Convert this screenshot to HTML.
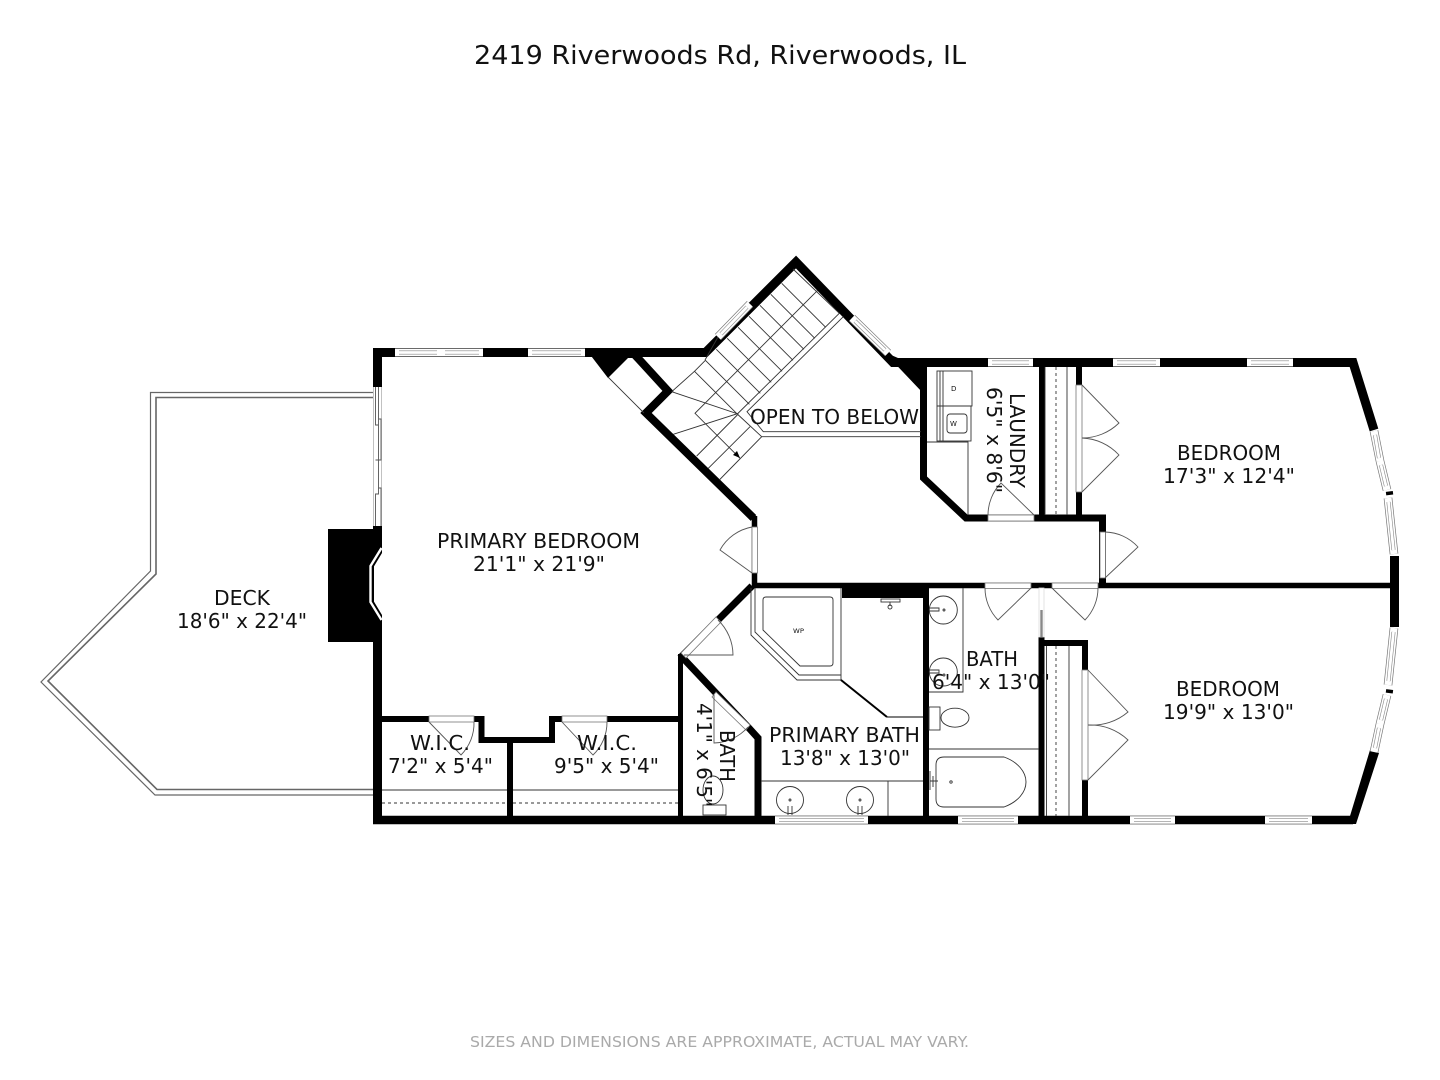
<!DOCTYPE html>
<html><head><meta charset="utf-8"><title>Floor plan</title>
<style>
html,body{margin:0;padding:0;background:#fff;width:1440px;height:1080px;overflow:hidden}
svg{display:block}
text{font-family:"DejaVu Sans","Liberation Sans",sans-serif;fill:#111;font-size:20px}
.t{stroke:#333;stroke-width:.9;fill:none}
.d{stroke:#555;stroke-width:.9;fill:none}
.f{stroke:#333;stroke-width:1;fill:#fff}
</style></head><body>
<svg width="1440" height="1080" viewBox="0 0 1440 1080" xmlns="http://www.w3.org/2000/svg">
<defs>
<path id="wo" d="M395 352.5H441M441 352.5H483M528 352.5H585M750 304L718 337M852 318L888 353M988 362.5H1033M1113 362.5H1160M1247 362.5H1293M775 820H868M958 820H1018M1130 820H1175M1265 820H1312M1374 431L1380 461M1380 461L1387 490M1388 498L1394 554M1394 628L1388 685M1387 695L1380 724M1380 724L1374 752"/>
<path id="wi" d="M399 352.5H437M445 352.5H479M532 352.5H581M747 307L721 334M855 321L885 350M992 362.5H1029M1117 362.5H1156M1251 362.5H1289M779 820H864M962 820H1014M1134 820H1171M1269 820H1308M1375 435L1379 458M1381 465L1386 486M1388.5 502L1393.5 550M1393.5 632L1388.5 681M1386 699L1381 720M1379 728L1375 748"/>
</defs>
<rect width="1440" height="1080" fill="#fff"/>

<!-- deck -->
<g fill="none" stroke="#666" stroke-width="1.2">
<path d="M373 392.5H150.5V571L41 682L155 795H373"/>
<path d="M373 397.5H156V574L48 681L157 789.5H373" stroke-width="1.6"/>
</g>

<!-- walls -->
<g fill="none" stroke="#000" stroke-linejoin="miter" stroke-linecap="butt">
<path stroke-width="9" d="M377.5 348V387M377.5 660V824"/>
<path stroke-width="9" d="M373 352.5H705.5L796 262L893 362.5H1353L1374 430"/>
<path stroke-width="8" d="M635 355L668 391L646 413L753.5 518"/>
<path stroke-width="5.5" d="M754.5 516V586"/>
<path stroke-width="7" d="M923.5 362V478L966 518H1102.5V585"/>
<path stroke-width="6" d="M1042 362V518M1079 362V518"/>
<path stroke-width="5.5" d="M752 585.5H1395"/>
<path stroke-width="9" d="M1394.5 556V627"/>
<path stroke-width="6" d="M926 585V820"/>
<path stroke-width="7" d="M752 586L680 658M681 656L748 727L758 738V820"/>
<path stroke-width="5" d="M680.5 654V820"/>
<path stroke-width="6" d="M382 719H481.5V740H552V719H680"/>
<path stroke-width="6" d="M510 740V820"/>
<path stroke-width="6" d="M1041.5 820V637M1041.5 643H1085V820"/>
<path stroke-width="8.5" d="M373 820H1353"/>
</g>
<g fill="#000">
<polygon points="585,348 640,348 640,358 628,358 608,378"/>
<polygon points="884,352 898,358 927,358 927,392 922,392"/>
<polygon points="1370,750 1379,753 1356,824 1340,824 1340,816 1350,816"/>
<rect x="842" y="583" width="81" height="15"/>
<rect x="328" y="529" width="46" height="113"/>
<polygon points="373,526 382,526 382,553 373,568 373,600 382,615 382,660 373,660"/>
<rect x="1386" y="491.5" width="7" height="3.5" transform="rotate(-7 1389 493)"/>
<rect x="1386" y="689.5" width="7" height="3.5" transform="rotate(7 1389 691)"/>
</g>
<path d="M381.5 548L370.5 566V602L381.5 620" fill="none" stroke="#fff" stroke-width="2.4"/>

<!-- closet thin -->
<path class="t" d="M608 377L644 413"/>

<!-- sliding door -->
<rect x="373" y="387" width="9" height="139" fill="#fff"/>
<g class="d"><path d="M373.5 387V526M381.5 387V526" stroke="#bbb"/><path d="M375.5 387V425H378.5V387M378.5 419H381V460H378.5V419M375.5 460H378.5V494H375.5V526M378.5 488H381V526"/></g>

<!-- windows -->
<g fill="none">
<use href="#wo" stroke="#777" stroke-width="8.6"/>
<use href="#wo" stroke="#fff" stroke-width="7.2"/>
<use href="#wi" stroke="#888" stroke-width="4"/>
<use href="#wi" stroke="#fff" stroke-width="2.8"/>
</g>

<!-- door jambs -->
<g fill="#fff" stroke="#777" stroke-width=".8">
<rect x="752" y="527" width="5.5" height="46"/>
<rect x="988" y="515" width="46" height="6"/>
<rect x="1100" y="532" width="5.5" height="46"/>
<rect x="1076" y="385" width="6" height="107"/>
<rect x="1082" y="670" width="6" height="110"/>
<rect x="985" y="583" width="46" height="5.5"/>
<rect x="1052" y="583" width="46" height="5.5"/>
<rect x="429" y="716" width="45" height="6"/>
<rect x="562" y="716" width="45" height="6"/>
<polygon points="716,617 721,622 686,658 681,653"/>
<polygon points="716,692 712,697 746,730 750,725"/>
<rect x="1039" y="588" width="5" height="49" stroke="#ddd"/>
</g>
<path d="M1041.5 610V637" stroke="#888" stroke-width="2.4" fill="none"/>
<g class="d">
<path d="M752 573L720 550A46 46 0 0 1 752 527"/>
<path d="M1034 515L1001 483A46 46 0 0 0 988 515"/>
<path d="M1105 578L1138 547A46 46 0 0 0 1105 532"/>
<path d="M1082 385L1119 423A53 53 0 0 1 1082 438"/>
<path d="M1082 492L1119 455A53 53 0 0 0 1082 438"/>
<path d="M1088 670L1128 712A55 55 0 0 1 1088 725"/>
<path d="M1088 780L1128 740A55 55 0 0 0 1088 725"/>
<path d="M1031 588L998 620A46 46 0 0 1 985 588"/>
<path d="M1052 588L1085 620A46 46 0 0 0 1098 588"/>
<path d="M684 655H733A49 49 0 0 0 718 620"/>
<path d="M714 695V743A47 47 0 0 0 748 727"/>
<path d="M429 722L461 755A45 45 0 0 0 474 722"/>
<path d="M562 722L593 755A45 45 0 0 0 607 722"/>
</g>

<!-- stairs -->
<g class="t">
<path d="M781.7 283.3L825.7 327.3M770.8 294.3L814.8 338.3M759.9 305.3L803.9 349.3M749 316.3L793 360.3M738.1 327.3L782.1 371.3M727.2 338.3L771.2 382.3M716.3 349.3L760.3 393.3M705.4 360.3L749.4 404.3M694.5 371.3L738.5 415.3"/>
<path d="M793 269L839.3 313.3M671.7 391.7L694.5 371.3M694.5 371.3L705.4 360.3M705 360L718 337M671.7 391.7L737.3 413.7L673.3 434.3"/>
<path d="M817.3 290.7L695 413.3L740 458.3"/>
<path d="M696.7 456L737.3 415M708.3 468.3L750 426.7M719.3 480L761.7 436.7M737.3 414L761.7 436.7"/>
<path d="M839.3 313.3L737.3 414M843.3 316.7L747 411.7L763.3 431.7H921M761.7 436.7H921"/>
</g>
<polygon points="740,458 733,455 737,451" fill="#000"/>

<!-- primary bath fixtures -->
<g class="t">
<path d="M751 588V635L797 680H841V588"/>
<path d="M755 588V632L799 675H841"/>
<path d="M766 597H830Q833 597 833 600V663Q833 666 830 666H800L763 630V600Q763 597 766 597Z"/>
<path d="M761 781H923M888 781V816"/>
<path d="M841 680L887 717" stroke="#000" stroke-width="2"/>
<path d="M887 717H923" stroke-width="1.2"/>
<circle cx="790" cy="800" r="13.5"/><circle cx="860" cy="800" r="13.5"/>
<circle cx="790" cy="800" r="1"/><circle cx="860" cy="800" r="1"/>
<path d="M788 806V815M792 806V815M858 806V815M862 806V815"/>
</g>
<text x="793" y="633" style="font-size:6px" textLength="11" lengthAdjust="spacingAndGlyphs">WP</text>
<g class="t"><rect x="881" y="599" width="19" height="3"/><path d="M890 602V606"/><circle cx="890" cy="607" r="2"/></g>

<!-- bath fixtures -->
<g class="t">
<path d="M963 588V692H929M929 749H1039"/>
<circle cx="943.3" cy="610" r="14"/><circle cx="943.3" cy="672" r="14"/>
<circle cx="944" cy="610" r="1"/><circle cx="944" cy="675" r="1"/>
<path d="M929 608H939V611H929M929 670H939V673H929"/>
<rect x="929" y="707" width="11" height="23"/>
<ellipse cx="955" cy="717.7" rx="14" ry="9.5"/>
<path d="M944 757H1004C1018 762 1026 772 1026 782C1026 792 1018 802 1004 807H944Q936 807 936 799V765Q936 757 944 757Z"/>
<circle cx="951" cy="782" r="1.2"/>
<path d="M930 771V790M930 781H938M933 776V787"/>
</g>

<!-- small bath -->
<g class="t">
<ellipse cx="713" cy="790" rx="10" ry="14"/>
<rect x="703" y="805" width="23" height="10"/>
</g>

<!-- laundry -->
<g class="t">
<rect x="937" y="371" width="35" height="35"/>
<rect x="937" y="406" width="34" height="35"/>
<path d="M943 371V441M940 371V441M927 442H968V515"/>
<rect x="947" y="414" width="20" height="19" rx="3"/>
</g>
<text x="951" y="391" style="font-size:7px">D</text>
<text x="950" y="426" style="font-size:7px">W</text>

<!-- closets -->
<g class="t">
<path d="M1045 367V515M1067 367V515M1046.5 646V816M1069 646V816M382 790H507M513 790H678"/>
<path d="M1056 367V515M1056 646V816M382 803H507M513 803H678" stroke-dasharray="3 3"/>
</g>

<!-- labels -->
<text x="474" y="64" textLength="492" lengthAdjust="spacingAndGlyphs" style="font-size:26px">2419 Riverwoods Rd, Riverwoods, IL</text>
<text x="214" y="605" textLength="56" lengthAdjust="spacingAndGlyphs">DECK</text>
<text x="177" y="628" textLength="130" lengthAdjust="spacingAndGlyphs">18'6" x 22'4"</text>
<text x="437" y="548" textLength="203" lengthAdjust="spacingAndGlyphs">PRIMARY BEDROOM</text>
<text x="473" y="571" textLength="132" lengthAdjust="spacingAndGlyphs">21'1" x 21'9"</text>
<text x="750" y="424" textLength="169" lengthAdjust="spacingAndGlyphs">OPEN TO BELOW</text>
<text x="1177" y="460" textLength="104" lengthAdjust="spacingAndGlyphs">BEDROOM</text>
<text x="1163" y="483" textLength="132" lengthAdjust="spacingAndGlyphs">17'3" x 12'4"</text>
<text x="1176" y="696" textLength="104" lengthAdjust="spacingAndGlyphs">BEDROOM</text>
<text x="1163" y="719" textLength="131" lengthAdjust="spacingAndGlyphs">19'9" x 13'0"</text>
<text x="410" y="750" textLength="60" lengthAdjust="spacingAndGlyphs">W.I.C.</text>
<text x="388" y="773" textLength="105" lengthAdjust="spacingAndGlyphs">7'2" x 5'4"</text>
<text x="577" y="750" textLength="60" lengthAdjust="spacingAndGlyphs">W.I.C.</text>
<text x="554" y="773" textLength="105" lengthAdjust="spacingAndGlyphs">9'5" x 5'4"</text>
<text x="769" y="742" textLength="151" lengthAdjust="spacingAndGlyphs">PRIMARY BATH</text>
<text x="780" y="765" textLength="130" lengthAdjust="spacingAndGlyphs">13'8" x 13'0"</text>
<text x="966" y="666" textLength="52" lengthAdjust="spacingAndGlyphs">BATH</text>
<text x="932" y="689" textLength="118" lengthAdjust="spacingAndGlyphs">6'4" x 13'0"</text>
<text transform="translate(720,730) rotate(90)" textLength="52" lengthAdjust="spacingAndGlyphs">BATH</text>
<text transform="translate(697,703) rotate(90)" textLength="104" lengthAdjust="spacingAndGlyphs">4'1" x 6'5"</text>
<text transform="translate(1010,393) rotate(90)" textLength="95" lengthAdjust="spacingAndGlyphs">LAUNDRY</text>
<text transform="translate(987,387) rotate(90)" textLength="106" lengthAdjust="spacingAndGlyphs">6'5" x 8'6"</text>
<text x="470" y="1047" textLength="499" lengthAdjust="spacingAndGlyphs" style="font-size:15px;fill:#aaa">SIZES AND DIMENSIONS ARE APPROXIMATE, ACTUAL MAY VARY.</text>
</svg>
</body></html>
